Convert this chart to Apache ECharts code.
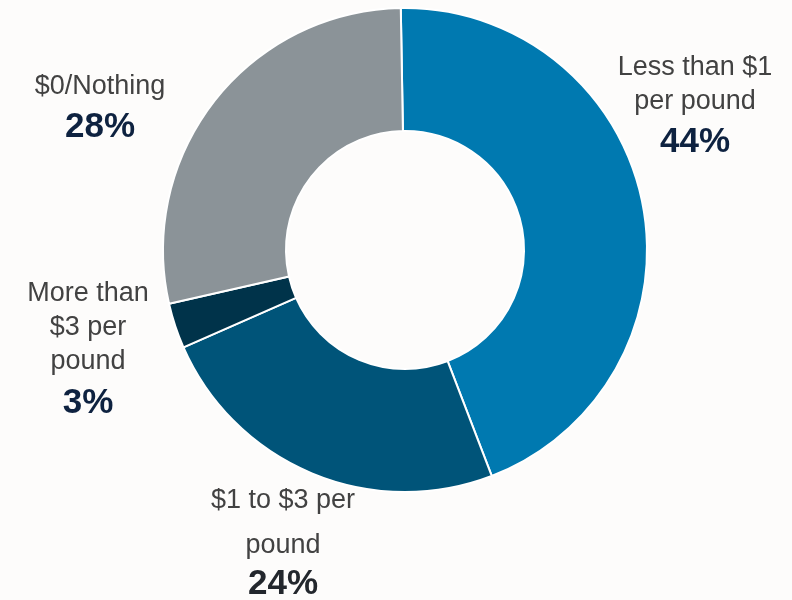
<!DOCTYPE html>
<html>
<head>
<meta charset="utf-8">
<script src="https://cdn.jsdelivr.net/npm/echarts@6/dist/echarts.min.js"></script>
<style>
  html, body { margin: 0; padding: 0; background: #fdfcfb; }
  #chart { width: 792px; height: 600px; }
</style>
</head>
<body>
<div id="chart"></div>
<script>
// Categories and shares (percent), clockwise from the top
const categories = ['Less than $1\nper pound', '$1 to $3 per\npound', 'More than\n$3 per\npound', '$0/Nothing'];
const shares = [44, 24, 3, 28];
const sliceColors = ['#0079b0', '#005479', '#00334a', '#8b9398'];
const pctColors = ['#0e2240', '#23272d', '#0e2240', '#0e2240'];

// Where each label block sits (x = centre, y = top of block) and its line heights
const labelSpots = [
  { x: 695, y: 51, nameLH: 34, pctLH: 46 },
  { x: 283, y: 478, nameLH: 45, pctLH: 32 },
  { x: 88, y: 277, nameLH: 34, pctLH: 48 },
  { x: 100, y: 70, nameLH: 34, pctLH: 46 }
];

const FONT = '"Liberation Sans", Arial, sans-serif';

const chart = echarts.init(document.getElementById('chart'), null, { renderer: 'canvas' });

chart.setOption({
  backgroundColor: '#fdfcfb',
  animation: false,
  series: [{
    type: 'pie',
    center: [405, 250],
    radius: [119, 242],
    startAngle: 91,
    clockwise: true,
    avoidLabelOverlap: false,
    itemStyle: { borderColor: '#ffffff', borderWidth: 2 },
    labelLine: { show: false },
    emphasis: { disabled: true },
    data: categories.map((name, i) => ({
      name: name,
      value: shares[i],
      itemStyle: { color: sliceColors[i] },
      label: {
        show: true,
        position: 'outside',
        formatter: '{n|{b}}\n{p|{c}%}',
        align: 'center',
        rich: {
          n: {
            fontFamily: FONT, fontSize: 27, color: '#424242',
            lineHeight: labelSpots[i].nameLH, align: 'center'
          },
          p: {
            fontFamily: FONT, fontSize: 35, fontWeight: 'bold', color: pctColors[i],
            lineHeight: labelSpots[i].pctLH, align: 'center'
          }
        }
      }
    })),
    labelLayout: function (params) {
      const s = labelSpots[params.dataIndex];
      return { x: s.x, y: s.y, align: 'center', verticalAlign: 'top', hideOverlap: false };
    }
  }]
});
</script>
</body>
</html>
